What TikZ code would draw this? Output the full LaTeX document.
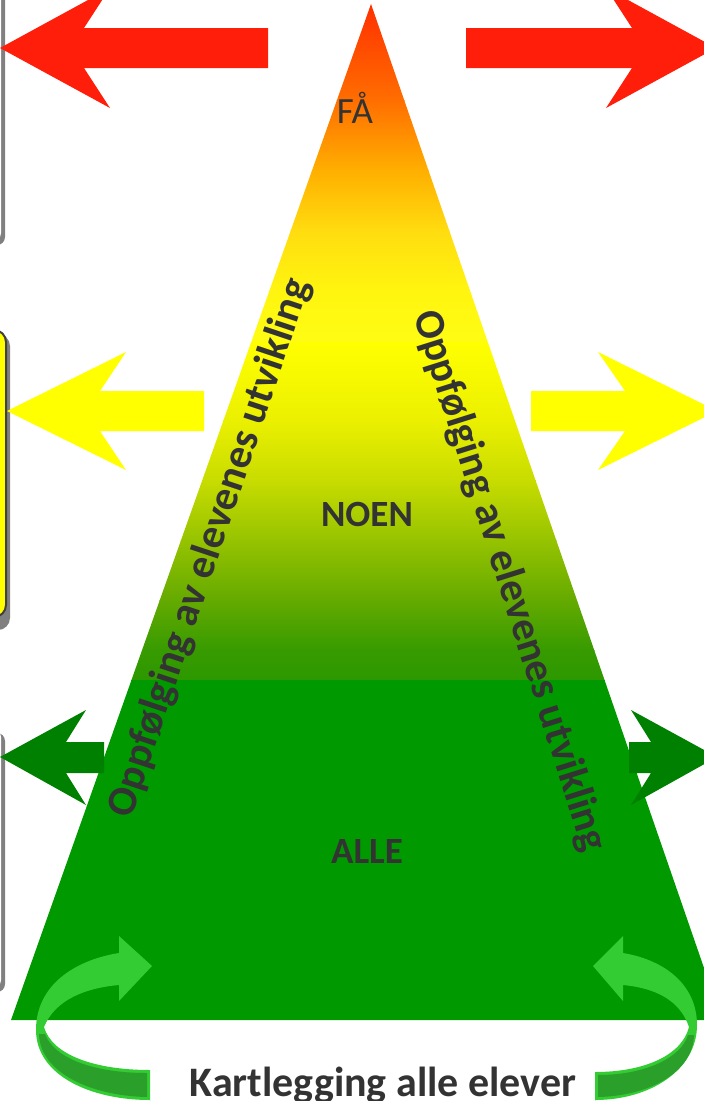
\documentclass[tikz,border=0pt]{standalone}
\usepackage{fontspec}
\setmainfont{Carlito}
\definecolor{arrred}{RGB}{255,30,10}
\definecolor{arryel}{RGB}{255,255,0}
\definecolor{arrgrn}{RGB}{0,128,0}
\definecolor{trigrn}{RGB}{0,153,0}
\definecolor{lgrn}{RGB}{51,204,51}
\definecolor{dgrn}{RGB}{42,160,42}
\definecolor{txtgray}{RGB}{51,51,51}
\definecolor{boxgray}{RGB}{128,128,128}
\definecolor{boxborder}{RGB}{64,64,64}
\definecolor{t0}{RGB}{255,45,0}
\definecolor{t1}{RGB}{255,110,0}
\definecolor{t2}{RGB}{255,175,0}
\definecolor{t3}{RGB}{255,220,15}
\definecolor{t4}{RGB}{255,245,15}
\definecolor{t5}{RGB}{255,252,20}
\definecolor{m0}{RGB}{255,255,0}
\definecolor{m1}{RGB}{235,240,0}
\definecolor{m2}{RGB}{200,220,0}
\definecolor{m3}{RGB}{150,195,0}
\definecolor{m4}{RGB}{100,170,0}
\definecolor{m5}{RGB}{55,155,0}
\definecolor{m6}{RGB}{45,152,0}
\begin{document}
\begin{tikzpicture}[x=1pt,y=-1pt,
  lbl/.style={inner sep=0pt, text=txtgray},
  boldlbl/.style={lbl, font=\bfseries\fontsize{37}{37}\selectfont},
  sidelbl/.style={lbl, font=\bfseries\fontsize{42}{42}\selectfont}]
\useasboundingbox (0,0) rectangle (704,1101);
\clip (0,0) rectangle (704,1101);

% left boxes (cut off)
\fill[boxgray, rounded corners=8] (-60,-20) rectangle (5,245);
\fill[white, rounded corners=8] (-60,-20) rectangle (1,241);
\fill[boxgray, rounded corners=12] (-60,334) rectangle (10,630);
\filldraw[fill=arryel, draw=boxborder, line width=2, rounded corners=12] (-60,330) rectangle (6,617);
\fill[boxgray, rounded corners=8] (-60,733) rectangle (5,992);
\fill[white, rounded corners=8] (-60,729) rectangle (1,988);

% pyramid
\begin{scope}
\clip (371,4) -- (11,1020) -- (722,1020) -- cycle;
\shade[top color=t0, bottom color=t1] (0,0) rectangle (704,100.5);
\shade[top color=t1, bottom color=t2] (0,100) rectangle (704,170.5);
\shade[top color=t2, bottom color=t3] (0,170) rectangle (704,230.5);
\shade[top color=t3, bottom color=t4] (0,230) rectangle (704,290.5);
\shade[top color=t4, bottom color=t5] (0,290) rectangle (704,342.5);
\shade[top color=m0, bottom color=m1] (0,342) rectangle (704,420.5);
\shade[top color=m1, bottom color=m2] (0,420) rectangle (704,480.5);
\shade[top color=m2, bottom color=m3] (0,480) rectangle (704,540.5);
\shade[top color=m3, bottom color=m4] (0,540) rectangle (704,600.5);
\shade[top color=m4, bottom color=m5] (0,600) rectangle (704,650.5);
\shade[top color=m5, bottom color=m6] (0,650) rectangle (704,680.5);
\fill[trigrn] (0,680) rectangle (704,1021);
\end{scope}

% straight arrows
\fill[arrred] (0,48) -- (110,-12) -- (84,28) -- (268,28) -- (268,68) -- (84,68) -- (110,108) -- cycle;
\fill[arrred] (716,48) -- (606,-12) -- (632,28) -- (466,28) -- (466,68) -- (632,68) -- (606,108) -- cycle;
\fill[arryel] (7,411) -- (126,352) -- (100,391) -- (204,391) -- (204,431) -- (100,431) -- (126,470) -- cycle;
\fill[arryel] (717,411) -- (598,352) -- (625,391) -- (531,391) -- (531,431) -- (625,431) -- (598,470) -- cycle;
\fill[arrgrn] (0,757) -- (86,710) -- (66,742) -- (104,742) -- (104,773) -- (66,773) -- (86,805) -- cycle;
\fill[arrgrn] (717,757) -- (631,710) -- (651,742) -- (629,742) -- (629,773) -- (651,773) -- (631,805) -- cycle;

% curved arrows
\fill[lgrn] (119,953) .. controls (75,960) and (36,985) .. (36,1030)
  .. controls (36,1075) and (90,1100) .. (150,1100) -- (150,1104) -- (150,1070)
  .. controls (95,1070) and (52,1055) .. (44,1027)
  .. controls (55,1000) and (85,988) .. (119,985) -- cycle;
\fill[lgrn] (119,936) -- (152,966) -- (119,1001) -- cycle;
\fill[dgrn] (39,1034) .. controls (40,1073) and (92,1096) .. (147,1097)
  -- (147,1073) .. controls (93,1073) and (54,1058) .. (45,1034) -- cycle;

\fill[lgrn] (623,953) .. controls (665,960) and (697,985) .. (697,1025)
  .. controls (697,1070) and (650,1100) .. (595,1100) -- (595,1104) -- (595,1072)
  .. controls (645,1072) and (682,1055) .. (689,1027)
  .. controls (680,1000) and (655,988) .. (623,985) -- cycle;
\fill[lgrn] (623,936) -- (593,966) -- (623,1001) -- cycle;
\fill[dgrn] (694,1035) .. controls (693,1073) and (648,1096) .. (598,1097)
  -- (598,1075) .. controls (645,1075) and (681,1058) .. (688,1035) -- cycle;

% texts
\node[lbl, font=\fontsize{37}{37}\selectfont, anchor=base] (fa) at (355,123) {FÅ};
\node[boldlbl, anchor=base] (noen) at (367,526) {NOEN};
\node[boldlbl, anchor=base] (alle) at (367,863) {ALLE};
\node[lbl, font=\bfseries\fontsize{42}{42}\selectfont, anchor=base] (kart) at (383,1096) {Kartlegging alle elever};
\node[sidelbl, rotate=71.5] (oppL) at (210,548) {Oppfølging av elevenes utvikling};
\node[sidelbl, rotate=-72.5] (oppR) at (509,581) {Oppfølging av elevenes utvikling};
\end{tikzpicture}
\end{document}
